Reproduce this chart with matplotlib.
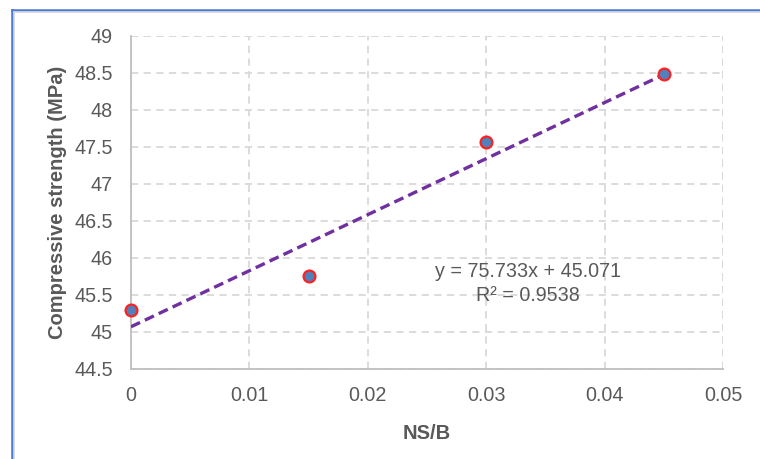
import numpy as np
import matplotlib.pyplot as plt
from matplotlib.lines import Line2D

plt.rcParams['font.family'] = ['Liberation Sans', 'DejaVu Sans']

# NS/B ratio vs compressive strength
ns_b = [0.0, 0.015, 0.03, 0.045]
strength = [45.3, 45.75, 47.57, 48.48]
x_ticks = [0, 0.01, 0.02, 0.03, 0.04, 0.05]
x_tick_labels = ['0', '0.01', '0.02', '0.03', '0.04', '0.05']
y_ticks = [44.5, 45, 45.5, 46, 46.5, 47, 47.5, 48, 48.5, 49]
y_tick_labels = ['44.5', '45', '45.5', '46', '46.5', '47', '47.5', '48', '48.5', '49']

text_grey = '#595959'

fig = plt.figure(figsize=(7.6, 4.59), dpi=100)
W, H = 760, 459
ax = fig.add_axes([131 / W, 1 - 369 / H, (723 - 131) / W, (369 - 36) / H])

# linear trendline
slope, intercept = np.polyfit(ns_b, strength, 1)
fit = np.polyval([slope, intercept], ns_b)
r2 = 1 - np.sum((np.array(strength) - fit) ** 2) / np.sum((np.array(strength) - np.mean(strength)) ** 2)
xs = np.array([ns_b[0], ns_b[-1]])
ax.plot(xs, slope * xs + intercept, color='#7030a0', lw=2.4, ls=(0, (3, 1.6)), zorder=3)

ax.plot(ns_b, strength, 'o', ms=8.5, mfc='#4f81bd', mec='#ff2020', mew=1.6, zorder=4,
        clip_on=False)

ax.text(0.0335, 45.82, f'y = {slope:.3f}x + {intercept:.3f}', ha='center', va='center',
        fontsize=14.2, color=text_grey)
ax.text(0.0335, 45.49, f'R² = {r2:.4f}', ha='center', va='center',
        fontsize=14.2, color=text_grey)

ax.set_xlim(0, 0.05)
ax.set_ylim(44.5, 49)
ax.set_xticks(x_ticks)
ax.set_xticklabels(x_tick_labels)
ax.set_yticks(y_ticks)
ax.set_yticklabels(y_tick_labels)
ax.tick_params(length=0, labelsize=14.2, labelcolor=text_grey)
ax.tick_params(axis='x', pad=12)
ax.tick_params(axis='y', pad=13)

ax.grid(True, color='#d9d9d9', ls=(0, (4, 3)), lw=1.3)
ax.set_axisbelow(True)
for side in ['top', 'right']:
    ax.spines[side].set_visible(False)
for side in ['left', 'bottom']:
    ax.spines[side].set_color('#bfbfbf')
    ax.spines[side].set_linewidth(1.3)
# dashed frame on top and right like the gridlines
ax.axhline(49, color='#d9d9d9', ls=(0, (4, 3)), lw=1.3, zorder=0)
ax.axvline(0.05, color='#d9d9d9', ls=(0, (4, 3)), lw=1.3, zorder=0)

ax.set_xlabel('NS/B', fontsize=14.5, fontweight='bold', color=text_grey, labelpad=14)
ax.set_ylabel('Compressive strength (MPa)', fontsize=14.5, fontweight='bold',
              color=text_grey, labelpad=5)

# chart border (blue outer edge, grey inner edge)
fig.add_artist(Line2D([11.5 / W, 11.5 / W], [0, 1 - 9.5 / H], color='#4a78d8', lw=1.8))
fig.add_artist(Line2D([11.5 / W, 1], [1 - 9.5 / H, 1 - 9.5 / H], color='#4a78d8', lw=1.8))
fig.add_artist(Line2D([13.8 / W, 13.8 / W], [0, 1 - 11.8 / H], color='#d4d4d4', lw=1.2))
fig.add_artist(Line2D([13.8 / W, 1], [1 - 11.8 / H, 1 - 11.8 / H], color='#d4d4d4', lw=1.2))

fig.savefig('out.png', dpi=100)
